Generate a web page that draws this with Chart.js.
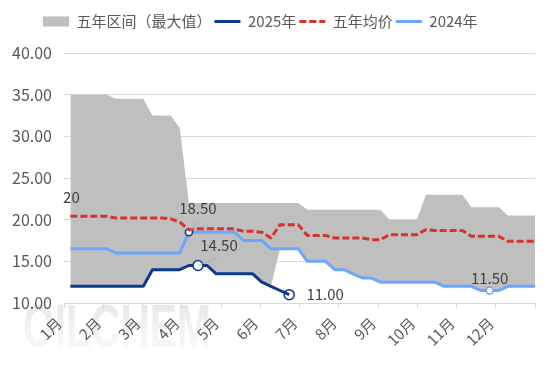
<!DOCTYPE html>
<html>
<head>
<meta charset="utf-8">
<script src="https://cdn.jsdelivr.net/npm/chart.js@4.4.7/dist/chart.umd.min.js"></script>
<style>
  html, body { margin: 0; padding: 0; background: #fff; }
  #wrap { width: 554px; height: 370px; position: relative; }
</style>
</head>
<body>
<div id="wrap"><canvas id="chart"></canvas></div>
<script>
// weekly values, week index 0..51
const months = ['1月', '2月', '3月', '4月', '5月', '6月', '7月', '8月', '9月', '10月', '11月', '12月'];

const rangeMax = [35, 35, 35, 35, 35, 34.5, 34.5, 34.5, 34.5, 32.5, 32.5, 32.5, 31,
  22, 22, 22, 22, 22, 22, 22, 22, 22, 22, 22, 22, 22,
  21.2, 21.2, 21.2, 21.2, 21.2, 21.2, 21.2, 21.2, 21.2, 20, 20, 20, 20,
  23, 23, 23, 23, 23, 21.5, 21.5, 21.5, 21.5, 20.5, 20.5, 20.5, 20.5];

const rangeMin = [12, 12, 12, 12, 12, 12, 12, 12, 12, 14, 14, 14, 14,
  14.5, 14.5, 14.5, 13.5, 13.5, 13.5, 13.5, 13.5, 12.5, 12, 16.5, 16.5, 16.5,
  15, 15, 15, 14, 14, 13.5, 13, 13, 12.5, 12.5, 12.5, 12.5, 12.5,
  12.5, 12.5, 12, 12, 12, 12, 11.5, 11.5, 11.5, 12, 12, 12, 12];

const avg5 = [20.4, 20.4, 20.4, 20.4, 20.4, 20.2, 20.2, 20.2, 20.2, 20.2, 20.2, 20.1, 19.7,
  18.8, 18.9, 18.9, 18.9, 18.9, 18.9, 18.6, 18.6, 18.5, 17.8, 19.4, 19.4, 19.4,
  18.1, 18.1, 18.1, 17.8, 17.8, 17.8, 17.8, 17.6, 17.6, 18.2, 18.2, 18.2, 18.2,
  18.8, 18.7, 18.7, 18.7, 18.7, 18, 18, 18, 18, 17.4, 17.4, 17.4, 17.4];

const y2024 = [16.5, 16.5, 16.5, 16.5, 16.5, 16, 16, 16, 16, 16, 16, 16, 16,
  18.5, 18.5, 18.5, 18.5, 18.5, 18.5, 17.5, 17.5, 17.5, 16.5, 16.5, 16.5, 16.5,
  15, 15, 15, 14, 14, 13.5, 13, 13, 12.5, 12.5, 12.5, 12.5, 12.5,
  12.5, 12.5, 12, 12, 12, 12, 11.5, 11.5, 11.5, 12, 12, 12, 12];

const y2025 = [12, 12, 12, 12, 12, 12, 12, 12, 12, 14, 14, 14, 14,
  14.5, 14.5, 14.5, 13.5, 13.5, 13.5, 13.5, 13.5, 12.5, 12, 11.5, 11];

const yTicks = [10, 15, 20, 25, 30, 35, 40];

const NAVY = '#0b3a8c';
const RED = '#d8322a';
const SKY = '#6aa6ff';
const GRAY = '#bfbfbf';
const FONT = "'Microsoft YaHei', 'Noto Sans CJK SC', sans-serif";

// x axis runs a little before week 0 so month ticks line up
const X_MIN = -0.7, X_MAX = 51;

const pts = arr => arr.map((v, i) => ({ x: i, y: v }));

// highlighted points: dataset index -> data index -> marker
const markers = {
  1: { 14: { r: 5, fill: '#fff', border: NAVY }, 24: { r: 5, fill: 'rgba(255,255,255,0)', border: NAVY } },
  3: { 13: { r: 3.5, fill: '#fff', border: NAVY }, 46: { r: 3.5, fill: '#fff', border: SKY } }
};
const mk = (c) => (markers[c.datasetIndex] || {})[c.dataIndex];
const pointStyle = {
  pointRadius: c => (mk(c) ? mk(c).r : 0),
  pointBackgroundColor: c => (mk(c) ? mk(c).fill : 'rgba(0,0,0,0)'),
  pointBorderColor: c => (mk(c) ? mk(c).border : 'rgba(0,0,0,0)'),
  pointBorderWidth: 1.5
};

const pointLabels = [
  { ds: 2, i: 0, text: '20', dx: 1, dy: -19 },
  { ds: 3, i: 13, dx: 9, dy: -24, leader: [10, -11] },
  { ds: 1, i: 14, dx: 21, dy: -20, leader: [20, -8] },
  { ds: 1, i: 24, dx: 36, dy: 0 },
  { ds: 3, i: 46, dx: 0, dy: -12 }
];

const labelPlugin = {
  id: 'pointLabels',
  afterDatasetsDraw(chart) {
    const ctx = chart.ctx;
    ctx.save();
    ctx.font = '15px ' + FONT;
    ctx.fillStyle = '#404040';
    ctx.textAlign = 'center';
    ctx.textBaseline = 'middle';
    pointLabels.forEach(l => {
      const el = chart.getDatasetMeta(l.ds).data[l.i];
      const v = chart.data.datasets[l.ds].data[l.i].y;
      if (l.leader) {
        ctx.strokeStyle = '#a6a6a6';
        ctx.lineWidth = 0.8;
        ctx.beginPath();
        ctx.moveTo(el.x, el.y);
        ctx.lineTo(el.x + l.leader[0], el.y + l.leader[1]);
        ctx.stroke();
      }
      ctx.fillText(l.text || v.toFixed(2), el.x + l.dx, el.y + l.dy);
    });
    ctx.restore();
  }
};

const watermark = {
  id: 'watermark',
  beforeDraw(chart) {
    const ctx = chart.ctx;
    ctx.save();
    const g = ctx.createLinearGradient(0, 300, 0, 348);
    g.addColorStop(0, 'rgba(205,205,205,0.5)');
    g.addColorStop(1, 'rgba(235,235,235,0.35)');
    ctx.fillStyle = g;
    ctx.font = "bold 62px 'Liberation Sans', sans-serif";
    ctx.textBaseline = 'alphabetic';
    ctx.fillText('OILCHEM', 23, 347, 188);
    ctx.restore();
  }
};

// legend: fixed height, first item starts where the reference has it
const legendPlace = {
  id: 'legendPlace',
  beforeInit(chart) {
    const fit = chart.legend.fit;
    chart.legend.fit = function () {
      fit.call(this);
      this.height = 42;
    };
  },
  afterLayout(chart) {
    chart.legend.left = 40;
  }
};

new Chart(document.getElementById('chart'), {
  type: 'line',
  data: {
    datasets: [{
      label: '五年区间（最大值）',
      data: pts(rangeMax),
      borderWidth: 0,
      backgroundColor: GRAY,
      borderColor: GRAY,
      pointRadius: 0,
      fill: 4
    }, {
      label: '2025年',
      data: pts(y2025),
      borderColor: NAVY,
      backgroundColor: NAVY,
      borderWidth: 3,
      fill: false,
      ...pointStyle
    }, {
      label: '五年均价',
      data: pts(avg5),
      borderColor: RED,
      backgroundColor: RED,
      borderWidth: 3,
      borderDash: [7, 3],
      fill: false,
      ...pointStyle
    }, {
      label: '2024年',
      data: pts(y2024),
      borderColor: SKY,
      backgroundColor: SKY,
      borderWidth: 3,
      fill: false,
      ...pointStyle
    }, {
      label: 'min',
      data: pts(rangeMin),
      borderWidth: 0,
      borderColor: 'rgba(0,0,0,0)',
      backgroundColor: 'rgba(0,0,0,0)',
      pointRadius: 0,
      fill: false
    }]
  },
  options: {
    responsive: true,
    maintainAspectRatio: false,
    animation: false,
    events: [],
    layout: { padding: { top: 11, left: 0, right: 16, bottom: 0 } },
    elements: {
      line: { tension: 0, borderJoinStyle: 'round' }
    },
    plugins: {
      filler: { drawTime: 'beforeDatasetsDraw' },
      tooltip: { enabled: false },
      legend: {
        position: 'top',
        align: 'start',
        labels: {
          color: '#595959',
          font: { family: FONT, size: 15 },
          usePointStyle: true,
          pointStyleWidth: 26,
          boxHeight: 10,
          padding: 3,
          generateLabels(chart) {
            const items = Chart.defaults.plugins.legend.labels.generateLabels(chart);
            return items.filter(it => it.datasetIndex !== 4).map(it => {
              const ds = chart.data.datasets[it.datasetIndex];
              if (it.datasetIndex === 0) {
                it.pointStyle = 'rect';
                it.fillStyle = GRAY;
                it.lineWidth = 0;
              } else {
                it.pointStyle = 'line';
                it.strokeStyle = ds.borderColor;
                it.lineDash = ds.borderDash || [];
                it.lineWidth = 3;
              }
              return it;
            });
          }
        }
      }
    },
    scales: {
      x: {
        type: 'linear',
        min: X_MIN,
        max: X_MAX,
        afterBuildTicks(scale) {
          scale.ticks = months.concat(['']).map((m, k) => ({ value: X_MIN + k * (X_MAX - X_MIN) / months.length }));
        },
        afterFit(scale) { scale.height = 67; },
        grid: { drawOnChartArea: false, drawTicks: true, tickLength: 5, color: '#d9d9d9' },
        border: { display: true, color: '#d9d9d9' },
        ticks: {
          autoSkip: false,
          maxRotation: 45,
          minRotation: 45,
          padding: 6,
          labelOffset: -5,
          color: '#595959',
          font: { family: FONT, size: 15 },
          callback: (v, i) => months[i] || ''
        }
      },
      y: {
        min: 10,
        max: 40,
        afterBuildTicks(scale) {
          scale.ticks = yTicks.map(v => ({ value: v }));
        },
        afterFit(scale) { scale.width = 64; },
        grid: { color: '#d9d9d9', drawTicks: false },
        border: { display: false },
        ticks: {
          padding: 12,
          color: '#595959',
          font: { family: FONT, size: 16 },
          callback: v => v.toFixed(2)
        }
      }
    }
  },
  plugins: [legendPlace, watermark, labelPlugin]
});
</script>
</body>
</html>
